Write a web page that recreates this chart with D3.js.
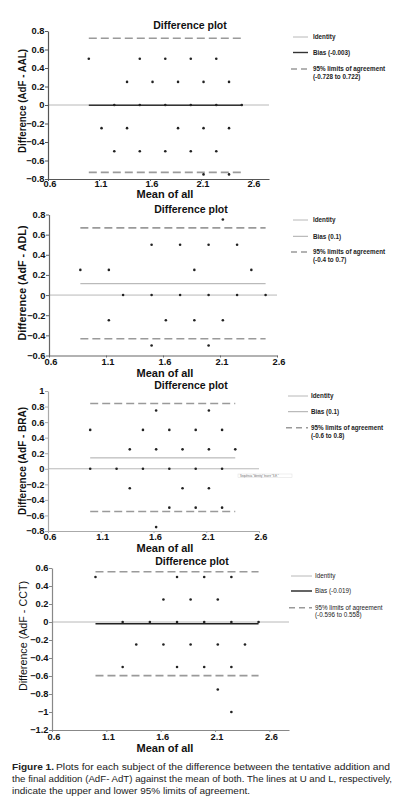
<!DOCTYPE html>
<html><head><meta charset="utf-8">
<script src="https://cdn.jsdelivr.net/npm/d3@7/dist/d3.min.js"></script>
<style>
body{margin:0;background:#fff;}
svg{display:block;font-family:"Liberation Sans",Arial,Helvetica,sans-serif;}
</style>
</head><body>
<svg id="chart" width="398" height="804"></svg>
<script>
// ---------- data ----------
const xTickValues = [0.6, 1.1, 1.6, 2.1, 2.6];

const aalMean = [1.0,1.5,1.75,2.0,2.25, 1.375,1.625,1.875,2.125,2.375, 1.25,1.5,1.75,2.0,2.25,2.5, 1.125,1.375,1.875,2.125,2.375, 1.25,1.5,1.75,2.0,2.25, 2.125,2.375];
const aalDiff = [0.5,0.5,0.5,0.5,0.5, 0.25,0.25,0.25,0.25,0.25, 0,0,0,0,0,0, -0.25,-0.25,-0.25,-0.25,-0.25, -0.5,-0.5,-0.5,-0.5,-0.5, -0.75,-0.75];
const aalBias = -0.003, aalLimits = [-0.728, 0.722], aalRange = [1.0, 2.5];
const aalYTicks = [-0.8,-0.6,-0.4,-0.2,0,0.2,0.4,0.6,0.8];

const adlMean = [2.125, 1.5,1.75,2.0,2.25, 0.875,1.125,1.875,2.375, 1.25,1.5,1.75,2.0,2.25,2.5, 1.125,1.625,1.875,2.125, 1.5,2.0];
const adlDiff = [0.75, 0.5,0.5,0.5,0.5, 0.25,0.25,0.25,0.25, 0,0,0,0,0,0, -0.25,-0.25,-0.25,-0.25, -0.5,-0.5];
const adlBias = 0.113, adlLimits = [-0.434, 0.667], adlRange = [0.875, 2.5];
const adlYTicks = [-0.6,-0.4,-0.2,0,0.2,0.4,0.6,0.8];

const braMean = [1.625,2.125, 1.0,1.5,1.75,2.0,2.25, 1.375,1.625,1.875,2.125,2.375, 1.0,1.25,1.5,1.75,2.0,2.25, 1.375,1.875,2.125, 1.75,2.0,2.25, 1.625];
const braDiff = [0.75,0.75, 0.5,0.5,0.5,0.5,0.5, 0.25,0.25,0.25,0.25,0.25, 0,0,0,0,0,0, -0.25,-0.25,-0.25, -0.5,-0.5,-0.5, -0.75];
const braBias = 0.14, braLimits = [-0.55, 0.84], braRange = [1.0, 2.375];
const braYTicks = [-0.8,-0.6,-0.4,-0.2,0,0.2,0.4,0.6,0.8,1];

const cctMean = [1.0,1.75,2.0,2.25, 1.625,1.875,2.125, 1.25,1.5,1.75,2.0,2.25,2.5, 1.375,1.625,1.875,2.125,2.375, 1.25,1.75,2.0,2.25, 2.125, 2.25];
const cctDiff = [0.5,0.5,0.5,0.5, 0.25,0.25,0.25, 0,0,0,0,0,0, -0.25,-0.25,-0.25,-0.25,-0.25, -0.5,-0.5,-0.5,-0.5, -0.75, -1];
const cctBias = -0.019, cctLimits = [-0.596, 0.558], cctRange = [1.0, 2.5];
const cctYTicks = [-1.2,-1,-0.8,-0.6,-0.4,-0.2,0,0.2,0.4,0.6];

const titleText = "Difference plot";
const xLabelText = "Mean of all";
const yLabels = ["Difference (AdF - AAL)", "Difference (AdF - ADL)", "Difference (AdF - BRA)", "Difference (AdF - CCT)"];
const legendIdentity = "Identity";
const biasLabels = ["Bias (-0.003)", "Bias (0.1)", "Bias (0.1)", "Bias (-0.019)"];
const limitsLabel = "95% limits of agreement";
const limitsRanges = ["(-0.728 to 0.722)", "(-0.4 to 0.7)", "(-0.6 to 0.8)", "(-0.596 to 0.558)"];
const captionBold = "Figure 1.";
const captionLines = [
  "Plots for each subject of the difference between the tentative addition and",
  "the final addition (AdF- AdT) against the mean of both. The lines at U and L, respectively,",
  "indicate the upper and lower 95% limits of agreement."
];

// ---------- layout (styles/positions) ----------
const panels = [
  {mean:aalMean, diff:aalDiff, bias:aalBias, limits:aalLimits, range:aalRange, yTicks:aalYTicks,
   xr:[48,269], xd:[0.6,2.767], yr:[179,31], yd:[-0.8,0.8], axisCol:"#555", biasCol:"#333", biasW:1.4,
   tickDy:8.2, titleY:28.5, titleX:190, xLabY:198, yLabC:101, yLabLen:104, yLabW:"bold", yLabX:26,
   leg:{lineX:[293,308], textX:313, y:[37,52.5,69,76.5]}, legW:"bold"},
  {mean:adlMean, diff:adlDiff, bias:adlBias, limits:adlLimits, range:adlRange, yTicks:adlYTicks,
   xr:[49,277], xd:[0.6,2.6], yr:[355.5,214.5], yd:[-0.6,0.8], axisCol:"#666", biasCol:"#aaa", biasW:1,
   tickDy:9.5, titleY:212.5, titleX:191, xLabY:377, yLabC:283, yLabLen:115, yLabW:"bold", yLabX:26,
   leg:{lineX:[293,308], textX:313, y:[220,236.3,252,260]}, legW:"bold"},
  {mean:braMean, diff:braDiff, bias:braBias, limits:braLimits, range:braRange, yTicks:braYTicks,
   xr:[48,259], xd:[0.6,2.6], yr:[531,391], yd:[-0.8,1], axisCol:"#aaa", biasCol:"#aaa", biasW:1,
   tickDy:8.8, titleY:389, titleX:191, xLabY:552, yLabC:461, yLabLen:108, yLabW:"bold", yLabX:26,
   leg:{lineX:[288,308], textX:311, y:[396,411.7,427.7,435.7]}, legW:"bold", stray:true},
  {mean:cctMean, diff:cctDiff, bias:cctBias, limits:cctLimits, range:cctRange, yTicks:cctYTicks,
   xr:[52,289], xd:[0.6,2.78], yr:[730,568], yd:[-1.2,0.6], axisCol:"#888", biasCol:"#222", biasW:1.4,
   tickDy:9.8, titleY:564.5, titleX:192, xLabY:752, yLabC:636, yLabLen:110, yLabW:"normal", yLabX:27,
   leg:{lineX:[291,312], textX:315, y:[576,591,607.7,615]}, legW:"normal"}
];

const svg = d3.select("#chart");
const fmt = d => d3.format("~g")(+d.toFixed(2));

panels.forEach((p, i) => {
  const g = svg.append("g");
  const x = d3.scaleLinear().domain(p.xd).range(p.xr);
  const y = d3.scaleLinear().domain(p.yd).range(p.yr);

  // identity line (y = 0 across full width)
  g.append("line").attr("x1", x(p.xd[0])).attr("x2", x(p.xd[1]))
    .attr("y1", y(0)).attr("y2", y(0)).attr("stroke", "#b8b8b8").attr("stroke-width", 1);

  // limits of agreement
  p.limits.forEach(v => {
    g.append("line").attr("x1", x(p.range[0])).attr("x2", x(p.range[1]))
      .attr("y1", y(v)).attr("y2", y(v)).attr("stroke", "#9a9a9a").attr("stroke-width", 1.6)
      .attr("stroke-dasharray", "8,4");
  });

  // bias line
  g.append("line").attr("x1", x(p.range[0])).attr("x2", x(p.range[1]))
    .attr("y1", y(p.bias)).attr("y2", y(p.bias)).attr("stroke", p.biasCol).attr("stroke-width", p.biasW);

  // axes
  const yAxis = g.append("g").attr("transform", `translate(${p.xr[0]},0)`)
    .call(d3.axisLeft(y).tickValues(p.yTicks).tickFormat(fmt).tickSize(3).tickSizeOuter(0));
  const xAxis = g.append("g").attr("transform", `translate(0,${p.yr[0]})`)
    .call(d3.axisBottom(x).tickValues(xTickValues).tickFormat(fmt).tickSize(2).tickSizeOuter(0));
  [yAxis, xAxis].forEach(a => {
    a.select(".domain").attr("stroke", p.axisCol).attr("stroke-width", 1.2);
    a.selectAll(".tick line").attr("stroke", p.axisCol);
    a.selectAll("text").attr("font-size", 9.3).attr("font-weight", "bold").attr("fill", "#111")
      .attr("font-family", "'Liberation Sans',Arial,sans-serif");
  });
  yAxis.selectAll("text").attr("x", -3.5);
  xAxis.selectAll("text").attr("y", p.tickDy).attr("dy", 0).attr("dx", 1.5);

  // points
  g.selectAll("circle.pt").data(p.mean.map((m, k) => [m, p.diff[k]])).enter()
    .append("circle").attr("class", "pt")
    .attr("cx", d => x(d[0])).attr("cy", d => y(d[1])).attr("r", 1.3).attr("fill", "#222");

  // title
  g.append("text").attr("x", p.titleX).attr("y", p.titleY).attr("text-anchor", "middle")
    .attr("font-size", 10.5).attr("font-weight", "bold").attr("fill", "#111").text(titleText);
  // x label
  g.append("text").attr("x", 165).attr("y", p.xLabY).attr("text-anchor", "middle")
    .attr("font-size", 11).attr("font-weight", "bold").attr("fill", "#111").text(xLabelText);
  // y label
  g.append("text").attr("transform", `translate(${p.yLabX},${p.yLabC}) rotate(-90)`)
    .attr("text-anchor", "middle").attr("font-size", 10.5).attr("font-weight", p.yLabW).attr("fill", "#111")
    .attr("textLength", p.yLabLen).attr("lengthAdjust", "spacingAndGlyphs").text(yLabels[i]);

  // legend
  const L = p.leg;
  g.append("line").attr("x1", L.lineX[0]).attr("x2", L.lineX[1]).attr("y1", L.y[0]).attr("y2", L.y[0])
    .attr("stroke", "#b8b8b8").attr("stroke-width", 1);
  g.append("line").attr("x1", L.lineX[0]).attr("x2", L.lineX[1]).attr("y1", L.y[1]).attr("y2", L.y[1])
    .attr("stroke", p.biasCol).attr("stroke-width", p.biasW);
  g.append("line").attr("x1", L.lineX[0] - 2).attr("x2", L.lineX[1]).attr("y1", L.y[2]).attr("y2", L.y[2])
    .attr("stroke", "#9a9a9a").attr("stroke-width", 1.5).attr("stroke-dasharray", "6,4");
  const legTexts = [legendIdentity, biasLabels[i], limitsLabel, limitsRanges[i]];
  legTexts.forEach((t, k) => {
    g.append("text").attr("x", L.textX).attr("y", L.y[k] + 2.2).attr("font-size", 6.3)
      .attr("font-weight", p.legW).attr("fill", "#222").text(t);
  });

  if (p.stray) {
    g.append("rect").attr("x", 238).attr("y", 474).attr("width", 54).attr("height", 3.5)
      .attr("fill", "none").attr("stroke", "#ddd").attr("stroke-width", 0.5);
    g.append("text").attr("x", 240).attr("y", 476.8).attr("font-size", 2.6).attr("fill", "#666")
      .text("Sequência \"Identity\" Inserir \"S.E.\"");
  }
});

// caption
const cap = svg.append("g").attr("font-family", "'Liberation Sans Narrow','Liberation Sans',Arial,sans-serif")
  .attr("fill", "#222");
cap.append("text").attr("x", 12).attr("y", 770).attr("font-size", 9.6).attr("font-weight", "bold")
  .attr("textLength", 42).attr("lengthAdjust", "spacingAndGlyphs").text(captionBold);
cap.append("text").attr("x", 56).attr("y", 770).attr("font-size", 9.6)
  .attr("textLength", 334).attr("lengthAdjust", "spacingAndGlyphs").text(captionLines[0]);
cap.append("text").attr("x", 12).attr("y", 782).attr("font-size", 9.6)
  .attr("textLength", 380).attr("lengthAdjust", "spacingAndGlyphs").text(captionLines[1]);
cap.append("text").attr("x", 12).attr("y", 794).attr("font-size", 9.6)
  .attr("textLength", 238).attr("lengthAdjust", "spacingAndGlyphs").text(captionLines[2]);
</script>
</body></html>
